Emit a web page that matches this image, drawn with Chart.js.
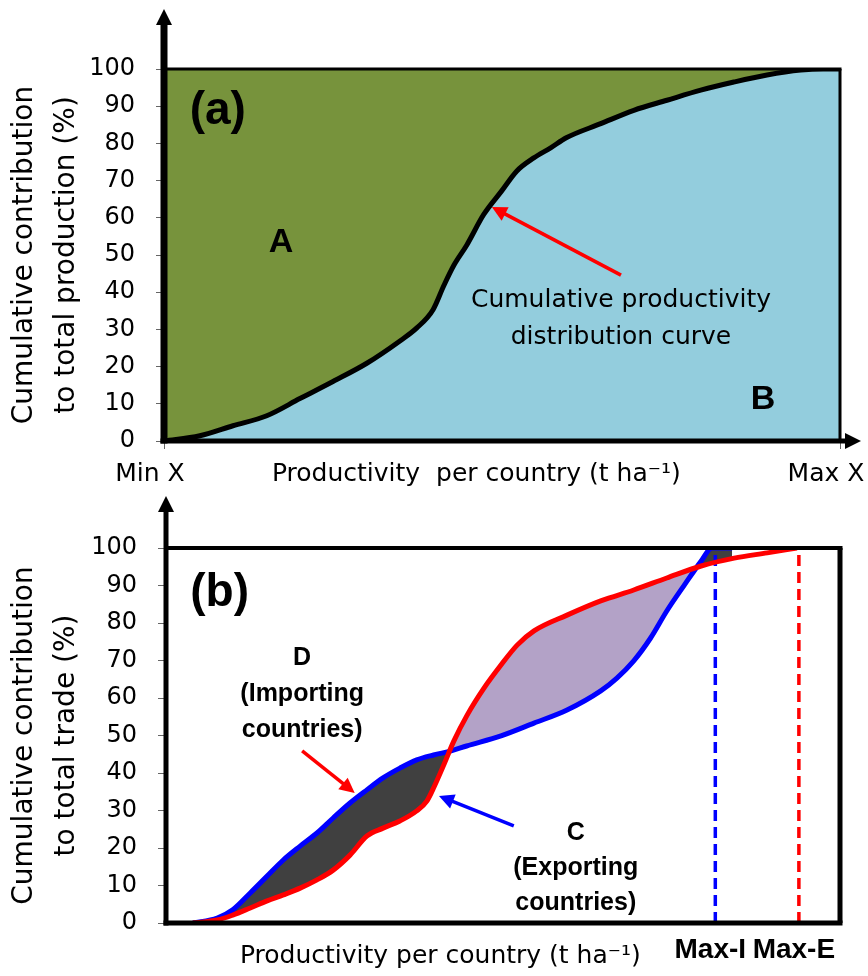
<!DOCTYPE html>
<html>
<head>
<meta charset="utf-8">
<script src="https://cdn.jsdelivr.net/npm/chart.js@4.4.1/dist/chart.umd.min.js"></script>
<style>
  html, body { margin: 0; padding: 0; background: #fff; overflow: hidden; }
  .panel { position: relative; width: 868px; height: 488px; }
</style>
</head>
<body>
<div class="panel"><canvas id="chartA"></canvas></div>
<div class="panel"><canvas id="chartB"></canvas></div>
<script>
// shared y ticks (%)
const yTicks = [0, 10, 20, 30, 40, 50, 60, 70, 80, 90, 100];

// (a) cumulative productivity distribution curve
const prodX = [0, 5.3, 10.2, 15.2, 20.1, 25, 30, 34.9, 37.4, 39.8, 41.4, 42.9, 44.8, 47.3, 49.9,
  52.2, 54.7, 57.2, 59.5, 64.6, 69.5, 74.4, 79.4, 84.3, 89.2, 94.2, 97.5, 100];
const prodY = [0, 1.4, 4.1, 6.8, 11.4, 16, 20.9, 26.9, 30.4, 35.3, 41.8, 47.3, 52.7, 60.9, 67.1,
  72.6, 76.1, 78.8, 81.5, 85.3, 88.9, 91.6, 94.3, 96.5, 98.4, 99.7, 100, 100];
const xTickValsA = [0, 100];
const xTickLabelsA = ['Min X', 'Max X'];

// (b) importing (blue) and exporting (red) countries
const importX = [4, 7.6, 9.9, 12.5, 15, 17.4, 19.9, 22.4, 24.8, 27.3, 29.8, 32.2, 34.7, 37.2, 39.7,
  42.3, 44.6, 49.7, 54.6, 59.5, 64.5, 66.9, 69.4, 71.9, 74.3, 76.9, 79.4, 81, 84];
const importY = [0, 1.3, 3.5, 8, 12.5, 16.8, 20.5, 24, 28, 32, 35.5, 38.7, 41.3, 43.5, 44.8,
  45.9, 47.2, 49.9, 53.3, 56.8, 61.9, 65.3, 69.9, 76, 83.2, 90.1, 96.5, 100, 100];
const exportX = [4, 7.6, 9.9, 12.5, 15, 17.4, 19.9, 22.4, 24.8, 27.3, 29.8, 32.2, 34.7, 37.2, 38.7,
  39.8, 41.2, 42.7, 44.7, 47.2, 49.7, 52.1, 54.6, 59.5, 64.5, 69.4, 74.3, 79.4, 84.3, 89.2, 93.6];
const exportY = [0, 0.8, 2.1, 4, 5.9, 7.5, 9.3, 11.5, 14.1, 18.1, 23.2, 25.3, 27.2, 29.9, 32.5,
  36.4, 42.1, 48.5, 55.5, 62.7, 68.8, 74.1, 77.9, 82.1, 85.9, 88.8, 92, 95.2, 97.3, 98.7, 100];
const maxImport = 81.5;
const maxExport = 93.9;
const xTickLabelsB = ['Max-I', 'Max-E'];

const pts = (xs, ys) => xs.map((x, i) => ({ x, y: ys[i] }));
const vline = v => [{ x: v, y: 0 }, { x: v, y: 100 }];

const SANS = 'DejaVu Sans';
const ARIAL = 'Liberation Sans';

function arrowTo(ctx, x0, y0, x1, y1, color, width, head) {
  const a = Math.atan2(y1 - y0, x1 - x0);
  ctx.strokeStyle = color;
  ctx.fillStyle = color;
  ctx.lineWidth = width;
  ctx.beginPath();
  ctx.moveTo(x0, y0);
  ctx.lineTo(x1 - Math.cos(a) * head * 0.8, y1 - Math.sin(a) * head * 0.8);
  ctx.stroke();
  ctx.beginPath();
  ctx.moveTo(x1, y1);
  ctx.lineTo(x1 - head * Math.cos(a) + head * 0.5 * Math.sin(a), y1 - head * Math.sin(a) - head * 0.5 * Math.cos(a));
  ctx.lineTo(x1 - head * Math.cos(a) - head * 0.5 * Math.sin(a), y1 - head * Math.sin(a) + head * 0.5 * Math.cos(a));
  ctx.closePath();
  ctx.fill();
}

// frame, axis arrows, labels and pointers drawn on top of the fills
function decorations(cfg) {
  return {
    id: 'decorations',
    afterDatasetsDraw(chart) {
      const { ctx, chartArea: { left, right, top, bottom }, scales: { x, y } } = chart;
      ctx.save();
      ctx.lineCap = 'butt';
      ctx.strokeStyle = '#000';
      ctx.fillStyle = '#000';

      // top and right border
      ctx.lineWidth = cfg.topWidth;
      ctx.beginPath(); ctx.moveTo(left, top); ctx.lineTo(right + cfg.rightWidth / 2, top); ctx.stroke();
      ctx.lineWidth = cfg.rightWidth;
      ctx.beginPath(); ctx.moveTo(right, top); ctx.lineTo(right, bottom); ctx.stroke();

      // x axis
      ctx.lineWidth = cfg.xWidth;
      const xEnd = cfg.xArrowTip ? cfg.xArrowTip - 12 : right + cfg.rightWidth / 2;
      ctx.beginPath(); ctx.moveTo(left - cfg.yWidth / 2, bottom); ctx.lineTo(xEnd, bottom); ctx.stroke();
      if (cfg.xArrowTip) {
        ctx.beginPath();
        ctx.moveTo(cfg.xArrowTip, bottom);
        ctx.lineTo(cfg.xArrowTip - 16, bottom - 8);
        ctx.lineTo(cfg.xArrowTip - 16, bottom + 8);
        ctx.closePath(); ctx.fill();
      }

      // y axis with arrow
      ctx.lineWidth = cfg.yWidth;
      ctx.beginPath(); ctx.moveTo(left, bottom + cfg.xWidth / 2); ctx.lineTo(left, cfg.yArrowTip + 12); ctx.stroke();
      ctx.beginPath();
      ctx.moveTo(left, cfg.yArrowTip);
      ctx.lineTo(left - 8, cfg.yArrowTip + 16);
      ctx.lineTo(left + 8, cfg.yArrowTip + 16);
      ctx.closePath(); ctx.fill();

      // pointers
      cfg.arrows.forEach(a => {
        arrowTo(ctx, x.getPixelForValue(a.from[0]), y.getPixelForValue(a.from[1]),
          x.getPixelForValue(a.to[0]), y.getPixelForValue(a.to[1]), a.color, 3.5, 15);
      });

      // text notes
      ctx.fillStyle = '#000';
      ctx.textBaseline = 'middle';
      cfg.notes.forEach(n => {
        ctx.font = n.font;
        ctx.textAlign = n.align || 'center';
        ctx.fillText(n.text, x.getPixelForValue(n.x), y.getPixelForValue(n.y));
      });

      // x axis title
      ctx.font = '25px "' + SANS + '"';
      ctx.textAlign = 'center';
      ctx.fillText(cfg.xTitle, x.getPixelForValue(cfg.xTitleAt), bottom + 33);
      ctx.restore();
    }
  };
}

// keep tick labels from pushing the plot area inwards
function noEdgePadding(s) {
  s.paddingLeft = 0; s.paddingRight = 0; s.paddingTop = 0; s.paddingBottom = 0;
}

function yScale(title, width) {
  return {
    type: 'linear', min: 0, max: 100,
    afterBuildTicks: s => { s.ticks = yTicks.map(v => ({ value: v })); },
    afterFit: s => { s.width = width; noEdgePadding(s); },
    grid: { drawOnChartArea: false, drawTicks: true, tickLength: 8, color: '#666' },
    border: { display: false },
    ticks: { font: { family: SANS, size: 24 }, color: '#000', padding: 21 },
    title: {
      display: true, text: title, color: '#000',
      font: { family: SANS, size: 28, lineHeight: 1.5 }, padding: { top: 4, bottom: 0 }
    }
  };
}

// ---- panel (a) ----
new Chart(document.getElementById('chartA'), {
  type: 'line',
  data: {
    datasets: [
      { data: pts(prodX, prodY), borderColor: '#000', borderWidth: 5, fill: 'origin',
        backgroundColor: '#93CDDD', pointRadius: 0, cubicInterpolationMode: 'monotone' },
      { data: pts(prodX, prodY), borderWidth: 0, fill: 'end',
        backgroundColor: '#77933C', pointRadius: 0, cubicInterpolationMode: 'monotone' }
    ]
  },
  options: {
    responsive: true, maintainAspectRatio: false, animation: false,
    layout: { padding: { top: 69, right: 28, left: 0, bottom: 0 }, autoPadding: false },
    plugins: { legend: { display: false }, tooltip: { enabled: false }, filler: { drawTime: 'beforeDatasetsDraw' } },
    scales: {
      x: {
        type: 'linear', min: 0, max: 100,
        afterBuildTicks: s => { s.ticks = xTickValsA.map(v => ({ value: v })); },
        afterFit: s => { s.height = 47; noEdgePadding(s); },
        grid: { drawOnChartArea: false, drawTicks: true, tickLength: 8, color: '#666' },
        border: { display: false },
        ticks: {
          font: { family: SANS, size: 25 }, color: '#000', padding: 10, labelOffset: -14,
          maxRotation: 0, autoSkip: false,
          callback: v => xTickLabelsA[xTickValsA.indexOf(v)]
        }
      },
      y: yScale(['Cumulative contribution', 'to total production (%)'], 164)
    }
  },
  plugins: [decorations({
    topWidth: 3, rightWidth: 3, xWidth: 5, yWidth: 7, xArrowTip: 861, yArrowTip: 9,
    xTitle: 'Productivity  per country (t ha\u207B\u00B9)', xTitleAt: 46.2,
    arrows: [{ from: [67.6, 44.6], to: [48.5, 62.9], color: '#FF0000' }],
    notes: [
      { text: '(a)', x: 3.8, y: 88.7, font: 'bold 46px "' + ARIAL + '"', align: 'left' },
      { text: 'A', x: 17.3, y: 53.2, font: 'bold 34px "' + ARIAL + '"' },
      { text: 'B', x: 88.6, y: 11.0, font: 'bold 34px "' + ARIAL + '"' },
      { text: 'Cumulative productivity', x: 67.6, y: 37.9, font: '25px "' + SANS + '"' },
      { text: 'distribution curve', x: 67.6, y: 27.9, font: '25px "' + SANS + '"' }
    ]
  })]
});

// ---- panel (b) ----
new Chart(document.getElementById('chartB'), {
  type: 'line',
  data: {
    datasets: [
      { data: pts(exportX, exportY), borderColor: '#FF0000', borderWidth: 5, pointRadius: 0,
        cubicInterpolationMode: 'monotone',
        fill: { target: 1, above: '#B3A2C7', below: '#404040' } },
      { data: pts(importX, importY), borderColor: '#0000FF', borderWidth: 5, pointRadius: 0,
        cubicInterpolationMode: 'monotone', fill: false },
      { data: vline(maxImport), borderColor: '#0000FF', borderWidth: 3.5, borderDash: [11, 6],
        pointRadius: 0, fill: false },
      { data: vline(maxExport), borderColor: '#FF0000', borderWidth: 3.5, borderDash: [11, 6],
        pointRadius: 0, fill: false }
    ]
  },
  options: {
    responsive: true, maintainAspectRatio: false, animation: false,
    layout: { padding: { top: 60, right: 28, left: 0, bottom: 0 }, autoPadding: false },
    plugins: { legend: { display: false }, tooltip: { enabled: false }, filler: { drawTime: 'beforeDatasetsDraw' } },
    scales: {
      x: {
        type: 'linear', min: 0, max: 100,
        afterBuildTicks: s => { s.ticks = [maxImport, maxExport].map(v => ({ value: v })); },
        afterFit: s => { s.height = 53; noEdgePadding(s); },
        grid: { display: false, drawTicks: false },
        border: { display: false },
        ticks: {
          font: { family: ARIAL, size: 28, weight: 'bold' }, color: '#000', padding: 10, labelOffset: -5,
          maxRotation: 0, autoSkip: false,
          callback: v => xTickLabelsB[[maxImport, maxExport].indexOf(v)]
        }
      },
      y: yScale(['Cumulative contribution', 'to total trade (%)'], 166)
    }
  },
  plugins: [decorations({
    topWidth: 4, rightWidth: 5, xWidth: 5, yWidth: 5, xArrowTip: 0, yArrowTip: 8,
    xTitle: 'Productivity per country (t ha\u207B\u00B9)', xTitleAt: 40.7,
    arrows: [
      { from: [20.2, 45.9], to: [28.0, 34.7], color: '#FF0000' },
      { from: [51.6, 25.9], to: [40.5, 33.9], color: '#0000FF' }
    ],
    notes: [
      { text: '(b)', x: 3.6, y: 88, font: 'bold 46px "' + ARIAL + '"', align: 'left' },
      { text: 'D', x: 20.2, y: 70.7, font: 'bold 25px "' + ARIAL + '"' },
      { text: '(Importing', x: 20.2, y: 61.1, font: 'bold 25px "' + ARIAL + '"' },
      { text: 'countries)', x: 20.2, y: 51.5, font: 'bold 25px "' + ARIAL + '"' },
      { text: 'C', x: 60.8, y: 24, font: 'bold 25px "' + ARIAL + '"' },
      { text: '(Exporting', x: 60.8, y: 14.7, font: 'bold 25px "' + ARIAL + '"' },
      { text: 'countries)', x: 60.8, y: 5.3, font: 'bold 25px "' + ARIAL + '"' }
    ]
  })]
});
</script>
</body>
</html>
